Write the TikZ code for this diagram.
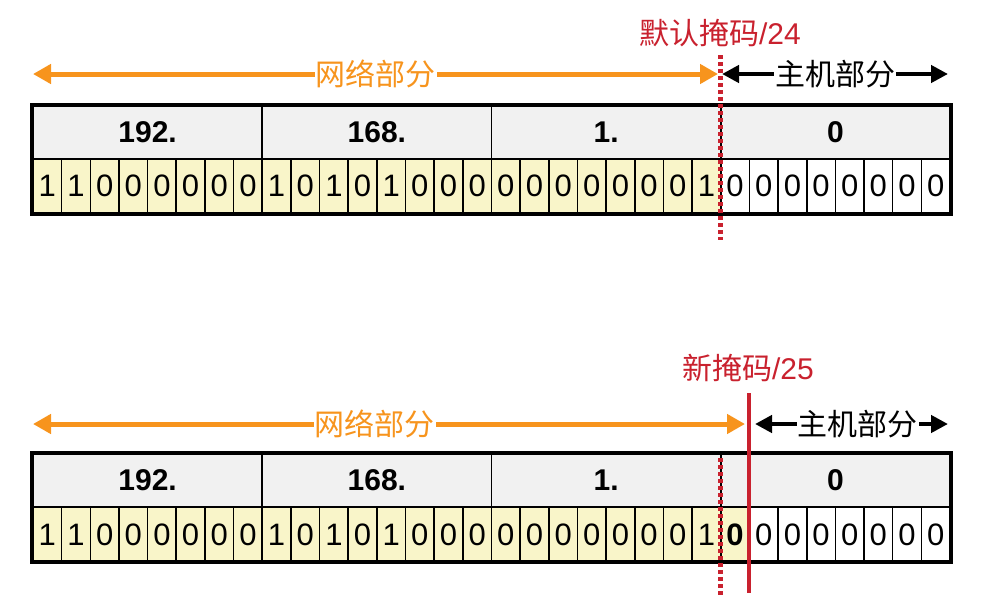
\documentclass[tikz,border=0pt]{standalone}
\usepackage{fontspec}
\setmainfont{Liberation Sans}
\newfontfamily\cjk{Noto Sans CJK SC}
\usetikzlibrary{arrows.meta,positioning}

\definecolor{netorange}{HTML}{F7941D}
\definecolor{maskred}{HTML}{C9212E}
\definecolor{bityellow}{HTML}{F9F5C9}
\definecolor{headgray}{HTML}{F1F1F1}

\begin{document}
\begin{tikzpicture}[x=1pt,y=-1pt,
  octet/.style={draw=black,line width=1.6pt,fill=headgray,inner sep=0pt,
    minimum width=229.25pt,minimum height=53pt,font=\fontsize{30}{30}\selectfont\bfseries},
  bitcell/.style={draw=black,line width=1.6pt,fill=bityellow,inner sep=0pt,
    minimum width=28.66pt,minimum height=54pt,font=\fontsize{31}{31}\selectfont},
  hostbit/.style={bitcell,fill=white},
  newbit/.style={bitcell,font=\fontsize{31}{31}\selectfont\bfseries},
  frame/.style={draw=black,line width=4pt},
  netpart/.style={draw=netorange,line width=5pt,{Triangle[length=18pt,width=19pt]}-{Triangle[length=18pt,width=19pt]}},
  hostpart/.style={draw=black,line width=4.5pt,{Triangle[length=17pt,width=17pt]}-{Triangle[length=17pt,width=17pt]}},
  partlabel/.style={fill=white,inner sep=1pt,font=\fontsize{30}{30}\selectfont\cjk},
  masklabel/.style={text=maskred,inner sep=0pt,font=\fontsize{30}{30}\selectfont},
  oldmask/.style={draw=maskred,line width=4.5pt,dash pattern=on 4pt off 3pt},
  newmask/.style={draw=maskred,line width=4pt}]

\useasboundingbox (0,0) rectangle (1002,613);

% --- default mask /24 ---
\foreach \v [count=\k from 0] in {192.,168.,1.,0}
  \node[octet] (to\k) at (33+114.625+\k*229.25,132.5) {\v};
\foreach \b [count=\i from 0] in {1,1,0,0,0,0,0,0, 1,0,1,0,1,0,0,0, 0,0,0,0,0,0,0,1, 0,0,0,0,0,0,0,0} {
  \ifnum\i<24 \def\sty{bitcell}\else\def\sty{hostbit}\fi
  \node[\sty] (tb\i) at (33+14.33+\i*28.656,186) {\b};
}
\draw[frame] (to0.north west) rectangle (tb31.south east);

\coordinate (tnetL) at (33,74);
\coordinate (tnetR) at (718,74);
\coordinate (thostL) at (722,74);
\coordinate (thostR) at (948,74);
\draw[netpart] (tnetL) -- node[partlabel,text=netorange] (tnet) {网络部分} (tnetR);
\draw[hostpart] (thostL) -- node[partlabel,text=black] (thost) {主机部分} (thostR);

\node[masklabel] (m24) at (720,33) {{\cjk 默认掩码}/24};
\coordinate (m24top) at (720.7,55);
\coordinate (m24bot) at (720.7,240);
\draw[oldmask] (m24top) -- (m24bot);

% --- new mask /25 ---
\foreach \v [count=\k from 0] in {192.,168.,1.,0}
  \node[octet] (bo\k) at (33+114.625+\k*229.25,480) {\v};
\foreach \b [count=\i from 0] in {1,1,0,0,0,0,0,0, 1,0,1,0,1,0,0,0, 0,0,0,0,0,0,0,1, 0,0,0,0,0,0,0,0} {
  \ifnum\i<24 \def\sty{bitcell}\else\ifnum\i=24 \def\sty{newbit}\else\def\sty{hostbit}\fi\fi
  \node[\sty] (bb\i) at (33+14.33+\i*28.656,534.5) {\b};
}
\draw[frame] (bo0.north west) rectangle (bb31.south east);

\coordinate (bnetL) at (33,424);
\coordinate (bnetR) at (745,424);
\coordinate (bhostL) at (755,424);
\coordinate (bhostR) at (948,424);
\draw[netpart] (bnetL) -- node[pos=0.48,partlabel,text=netorange] (bnet) {网络部分} (bnetR);
\draw[hostpart] (bhostL) -- node[partlabel,text=black,xshift=6pt] (bhost) {主机部分} (bhostR);

\node[masklabel] (m25) at (748,368) {{\cjk 新掩码}/25};
\coordinate (m24top2) at (720.7,458);
\coordinate (m24bot2) at (720.7,595);
\draw[oldmask] (m24top2) -- (m24bot2);
\coordinate (m25top) at (749.4,393);
\coordinate (m25bot) at (749.4,593);
\draw[newmask] (m25top) -- (m25bot);
\end{tikzpicture}
\end{document}
